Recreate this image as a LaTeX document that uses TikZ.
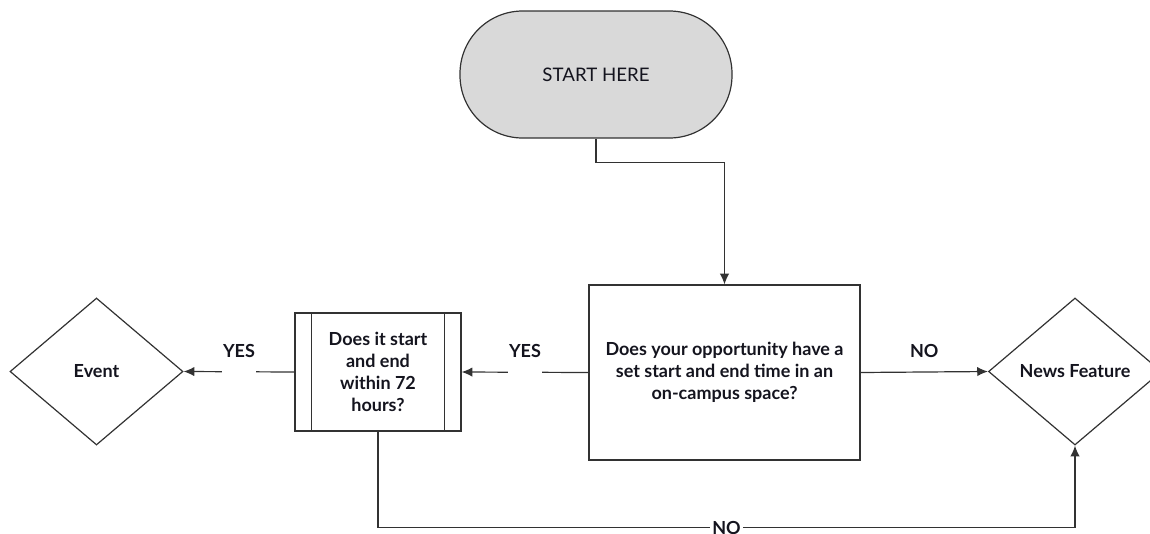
\documentclass[tikz,border=0pt]{standalone}
\usepackage{fontspec}
\setmainfont{Lato}
\usetikzlibrary{shapes,arrows,arrows.meta,positioning,calc}

\definecolor{startgray}{RGB}{217,217,217}
\definecolor{linegray}{RGB}{50,50,50}
\definecolor{txtcol}{RGB}{20,20,30}

\tikzset{
  box/.style={draw=linegray, fill=white, text=txtcol, align=center, inner sep=0pt,
    font=\bfseries\fontsize{13.5}{16.5}\selectfont},
  decision/.style={box, diamond, minimum width=129.75pt, minimum height=110.25pt},
  gap/.style={fill=white, inner sep=0pt, minimum width=25.5pt, minimum height=4pt},
  lbl/.style={text=txtcol, font=\bfseries\fontsize{13.5}{15}\selectfont},
}

\begin{document}
\begin{tikzpicture}[x=0.75pt, y=-0.75pt, >={Latex[length=8pt,width=7pt]}, line width=0.9pt, draw=linegray]
        \useasboundingbox (0,0) rectangle (1150,533);
        \node[box, fill=startgray, font=\fontsize{14}{16}\selectfont, rounded corners=47pt,
          minimum width=204pt, minimum height=95.25pt] (start) at (596,74.5) {START HERE};
        \node[box, minimum width=203.25pt, minimum height=131.25pt] (q1) at (724.5,372.5)
          {Does your opportunity have a\\set start and end time in an\\on-campus space?};
        \node[box, minimum width=124.5pt, minimum height=88.5pt] (q2) at (378,372)
          {Does it start\\and end\\within 72\\hours?};
        \draw ($(q2.north west)+(17,0)$) -- ($(q2.south west)+(17,0)$);
        \draw ($(q2.north east)+(-17,0)$) -- ($(q2.south east)+(-17,0)$);
        \node[decision] (event) at (96.5,371.5) {Event};
        \node[decision] (news) at (1075,371.5) {News Feature};
        % connectors
        \draw[->] (start.south) -- ++(0,24) -| (q1.north);
        \draw[->] (q1.west) -- node[gap] {} node[lbl, above=7pt] {YES} (q2.east);
        \draw[->] (q2.west) -- node[gap] {} node[lbl, above=7pt] {YES} (event.east);
        \draw[->] (q1.east) -- node[lbl, above=7pt] {NO} (news.west);
        \draw[->] (q2.south) -- ++(0,96) -| node[pos=0.25, lbl, fill=white, inner sep=2pt] {NO} (news.south);
    \end{tikzpicture}
\end{document}
